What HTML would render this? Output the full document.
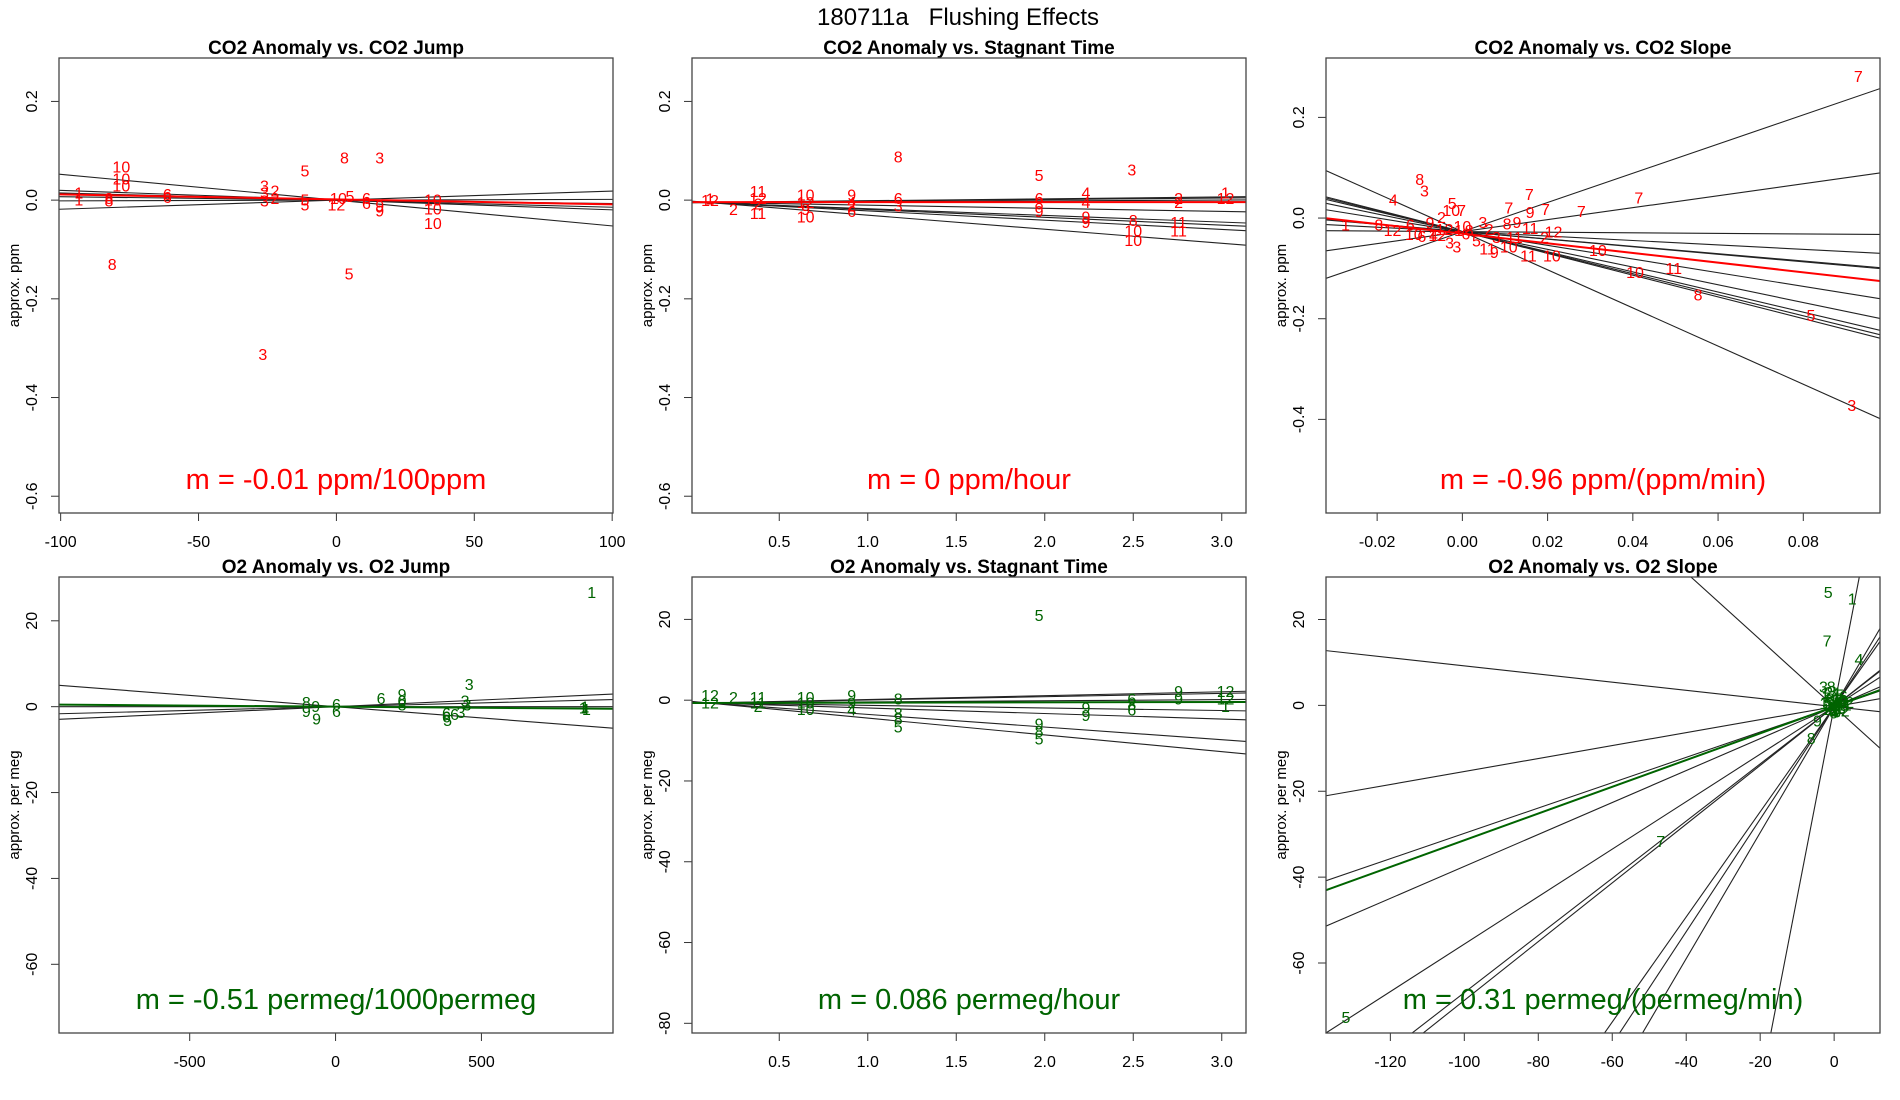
<!DOCTYPE html>
<html><head><meta charset="utf-8">
<style>
html,body{margin:0;padding:0;background:#fff;overflow:hidden;width:1900px;height:1100px;}
svg{display:block;font-family:"Liberation Sans",Arial,sans-serif;}
</style></head>
<body>
<svg id="chart" width="1900" height="1100" viewBox="0 0 1900 1100">
<text x="958" y="25" font-size="24" text-anchor="middle" xml:space="preserve" style="white-space:pre">180711a   Flushing Effects</text>
</svg>
<script>
// ---------- Panel 1: CO2 Anomaly vs CO2 Jump ----------
const p1Lab = ["10","10","10","1","1","8","8","6","6","3","3","3","2","2","5","5","5","1","12","0","5","8","3","6","6","9","9","10","10","10","8","5","3"];
const p1X = [-78,-78,-78,-93.4,-93.4,-82.5,-82.5,-61.3,-61.3,-26.1,-26.1,-26.1,-22.3,-22.3,-11.4,-11.4,-11.4,-0.8,0,2.2,4.9,2.9,15.7,10.9,10.9,15.7,15.7,35,35,35,-81.3,4.6,-26.7];
const p1Y = [0.065,0.041,0.027,0.012,-0.002,0.001,-0.004,0.009,0.003,0.027,0.012,-0.004,0.016,0.001,0.057,-0.002,-0.012,0.001,-0.012,0.001,0.005,0.083,0.083,0.001,-0.009,-0.014,-0.024,-0.002,-0.020,-0.049,-0.132,-0.152,-0.315];
const p1LineM = [-0.000523,-0.000197,-0.000144,0.000184,-0.00007,0.000015];
const p1LineB = [0,0,0,0,0,0];
const p1FitM = -0.0001, p1FitB = 0.0015;

// ---------- Panel 2: CO2 Anomaly vs Stagnant Time ----------
const p2Lab = ["12","1","2","11","12","11","2","10","12","10","9","9","4","6","2","8","6","3","5","6","8","9","4","4","9","9","3","8","10","10","2","2","11","11","1","12"];
const p2X = [0.109,0.109,0.241,0.38,0.38,0.38,0.38,0.649,0.649,0.649,0.649,0.909,0.909,0.909,0.909,1.172,1.172,1.172,1.968,1.968,1.968,1.968,2.233,2.233,2.233,2.233,2.492,2.5,2.5,2.5,2.756,2.756,2.756,2.756,3.021,3.021];
const p2Y = [-0.003,0.0,-0.021,0.015,0.001,-0.029,-0.010,0.008,-0.007,-0.036,-0.021,0.008,-0.007,-0.025,-0.014,0.085,0.001,-0.014,0.048,0.001,-0.010,-0.025,0.012,-0.007,-0.036,-0.047,0.059,-0.043,-0.065,-0.084,0.001,-0.007,-0.047,-0.065,0.012,0.001];
const p2LineM = [0.0038,0.0031,0.0017,0.0005,-0.0063,-0.0135,-0.0159,-0.0188,-0.0285];
const p2LineB = [-0.005,-0.005,-0.005,-0.005,-0.004,-0.004,-0.003,-0.003,-0.002];
const p2FitM = 0, p2FitB = -0.004;

// ---------- Panel 3: CO2 Anomaly vs CO2 Slope ----------
const p3Lab = ["7","7","7","7","7","7","9","9","8","11","12","2","11","10","11","10","10","10","11","8","5","3","1","8","12","4","8","3","5","10","7","2","6","10","6","9","12","3","3","8","5","3","2","10","11","9","3","12","4","6","1"];
const p3X = [0.0929,0.0414,0.0279,0.0195,0.0157,0.0109,0.0159,0.0128,0.0105,0.0159,0.0214,0.0193,0.0122,0.0109,0.0155,0.0210,0.0318,0.0405,0.0496,0.0553,0.0818,0.0914,-0.0274,-0.0196,-0.0164,-0.0162,-0.0100,-0.0089,-0.0024,-0.0026,-0.0002,-0.0049,-0.0122,-0.0114,-0.0095,-0.0076,-0.0059,-0.0030,-0.0013,0.0016,0.0033,0.0048,0.0063,0.0000,0.0059,0.0075,0.0080,-0.0042,-0.0068,0.0008,-0.0009];
const p3Y = [0.279,0.038,0.011,0.015,0.045,0.018,0.009,-0.011,-0.014,-0.023,-0.030,-0.041,-0.041,-0.059,-0.077,-0.077,-0.066,-0.110,-0.102,-0.155,-0.196,-0.374,-0.016,-0.016,-0.027,0.034,0.075,0.052,0.027,0.013,0.013,-0.001,-0.016,-0.035,-0.039,-0.012,-0.037,-0.052,-0.059,-0.027,-0.048,-0.011,-0.025,-0.019,-0.063,-0.070,-0.041,-0.025,-0.037,-0.034,-0.027];
const p3LineM = [2.90,1.19,-0.057,-0.44,-0.73,-0.75,-1.36,-1.76,-2.00,-2.09,-2.16,-3.79];
const p3LineB = [-0.027,-0.027,-0.027,-0.027,-0.027,-0.027,-0.027,-0.027,-0.027,-0.027,-0.027,-0.027];
const p3FitM = -0.96, p3FitB = -0.031;

// ---------- Panel 4: O2 Anomaly vs O2 Jump ----------
const p4Lab = ["1","1","1","1","3","3","3","3","6","6","6","6","5","9","0","8","8","9","9","9","6","6"];
const p4X = [878,849,855,860,458,444,451,430,156,380,408,380,384,228,228,228,-100,-100,-68,-65,3,3];
const p4Y = [26.4,-0.6,-0.3,-0.9,4.9,1.1,0.1,-1.6,1.7,-1.8,-2.0,-2.6,-3.5,2.6,1.1,0.2,0.7,-1.4,-0.2,-3.1,0.3,-1.4];
const p4LineM = [-0.00526,0.0031,0.00174,0];
const p4LineB = [0,0,0,0];
const p4FitM = -0.00051, p4FitB = 0;

// ---------- Panel 5: O2 Anomaly vs Stagnant Time ----------
const p5Lab = ["12","12","2","11","11","2","10","10","10","9","9","4","8","8","8","5","5","9","8","5","9","9","6","8","6","9","9","12","12","1"];
const p5X = [0.109,0.109,0.241,0.38,0.38,0.38,0.649,0.649,0.649,0.909,0.909,0.909,1.172,1.172,1.172,1.172,1.968,1.968,1.968,1.968,2.233,2.233,2.492,2.492,2.492,2.756,2.756,3.021,3.021,3.021];
const p5Y = [0.9,-0.9,0.4,0.4,-0.9,-1.8,0.4,-0.9,-2.5,0.9,-0.9,-2.7,-0.0,-3.6,-4.9,-6.9,20.7,-6.2,-8.0,-9.8,-2.2,-4.0,0.0,-1.3,-2.7,1.9,-0.0,1.9,-0.0,-1.8];
const p5LineM = [0.96,0.82,0.29,-0.64,-1.37,-3.13,-4.15];
const p5LineB = [-0.80,-0.78,-0.73,-0.64,-0.56,-0.39,-0.29];
const p5FitM = 0.086, p5FitB = -0.71;

// ---------- Panel 6: O2 Anomaly vs O2 Slope ----------
const p6Lab = ["5","1","7","4","3","8","9","8","7","5","1","2","3","4","5","6","7","8","9","10","11","12","1","2","3","4","5","6","7","8","9","10","11","12","1","2","3","6","9","12"];
const p6X = [-1.6,4.9,-1.9,6.7,-2.9,-0.8,-4.5,-6.2,-46.9,-132,-2.5,-1.5,-0.5,0.5,1.5,2.5,-2.0,-1.0,0.0,1.0,2.0,3.0,-2.8,-1.8,-0.8,0.2,1.2,2.2,-1.5,-0.5,0.5,1.5,2.5,-1.0,0.0,1.0,2.0,-0.2,0.8,1.8];
const p6Y = [26.0,24.6,14.8,10.5,4.0,4.0,-3.9,-7.9,-31.9,-72.9,2.5,2.8,3.0,2.6,2.2,1.8,1.5,1.2,1.0,0.8,0.6,0.4,0.2,0.0,-0.2,0.0,0.3,0.5,-0.6,-0.8,-0.5,-0.3,-0.1,-1.2,-1.4,-1.0,-0.8,-2.0,-1.8,-1.5];
const p6LineM = [-0.78,-0.095,0.151,0.295,0.372,0.553,0.666,0.684,1.224,1.31,1.467,4.44];
const p6LineB = [-0.3,-0.3,-0.3,-0.3,-0.3,-0.3,-0.3,-0.3,-0.3,-0.3,-0.3,-0.3];
const p6FitM = 0.311, p6FitB = -0.3;

// ---------- axis tick labels ----------
const p1XTicks = [-100,-50,0,50,100], p1YTicks = [0.2,0.0,-0.2,-0.4,-0.6];
const p2XTicks = [0.5,1.0,1.5,2.0,2.5,3.0], p2YTicks = [0.2,0.0,-0.2,-0.4,-0.6];
const p3XTicks = [-0.02,0.00,0.02,0.04,0.06,0.08], p3YTicks = [0.2,0.0,-0.2,-0.4];
const p4XTicks = [-500,0,500], p4YTicks = [20,0,-20,-40,-60];
const p5XTicks = [0.5,1.0,1.5,2.0,2.5,3.0], p5YTicks = [20,0,-20,-40,-60,-80];
const p6XTicks = [-120,-100,-80,-60,-40,-20,0], p6YTicks = [20,0,-20,-40,-60];

const NS = "http://www.w3.org/2000/svg";
const svg = document.getElementById("chart");
function mk(tag, attrs, parent){
  const e = document.createElementNS(NS, tag);
  for (const k in attrs) e.setAttribute(k, attrs[k]);
  (parent||svg).appendChild(e);
  return e;
}

const W0 = 554, H1 = 455, H2 = 456;
const panels = [
 {id:"co2-jump", title:"CO2 Anomaly vs. CO2 Jump", L:59, T:58, W:W0, H:H1, xl:[-100.6,100.3], yl:[-0.634,0.288], lab:p1Lab, xs:p1X, ys:p1Y, lm:p1LineM, lb:p1LineB, fm:p1FitM, fb:p1FitB, xt:p1XTicks, yt:p1YTicks, xd:0, yd:1, col:"#ff0000", ylab:"approx. ppm", note:"m = -0.01 ppm/100ppm"},
 {id:"co2-stagnant", title:"CO2 Anomaly vs. Stagnant Time", L:692, T:58, W:W0, H:H1, xl:[0.007,3.137], yl:[-0.634,0.288], lab:p2Lab, xs:p2X, ys:p2Y, lm:p2LineM, lb:p2LineB, fm:p2FitM, fb:p2FitB, xt:p2XTicks, yt:p2YTicks, xd:1, yd:1, col:"#ff0000", ylab:"approx. ppm", note:"m = 0 ppm/hour"},
 {id:"co2-slope", title:"CO2 Anomaly vs. CO2 Slope", L:1326, T:58, W:W0, H:H1, xl:[-0.032,0.098], yl:[-0.586,0.318], lab:p3Lab, xs:p3X, ys:p3Y, lm:p3LineM, lb:p3LineB, fm:p3FitM, fb:p3FitB, xt:p3XTicks, yt:p3YTicks, xd:2, yd:1, col:"#ff0000", ylab:"approx. ppm", note:"m = -0.96 ppm/(ppm/min)"},
 {id:"o2-jump", title:"O2 Anomaly vs. O2 Jump", L:59, T:577, W:W0, H:H2, xl:[-948,951], yl:[-76,30.2], lab:p4Lab, xs:p4X, ys:p4Y, lm:p4LineM, lb:p4LineB, fm:p4FitM, fb:p4FitB, xt:p4XTicks, yt:p4YTicks, xd:0, yd:0, col:"#006400", ylab:"approx. per meg", note:"m = -0.51 permeg/1000permeg"},
 {id:"o2-stagnant", title:"O2 Anomaly vs. Stagnant Time", L:692, T:577, W:W0, H:H2, xl:[0.007,3.137], yl:[-82.4,30.5], lab:p5Lab, xs:p5X, ys:p5Y, lm:p5LineM, lb:p5LineB, fm:p5FitM, fb:p5FitB, xt:p5XTicks, yt:p5YTicks, xd:1, yd:0, col:"#006400", ylab:"approx. per meg", note:"m = 0.086 permeg/hour"},
 {id:"o2-slope", title:"O2 Anomaly vs. O2 Slope", L:1326, T:577, W:W0, H:H2, xl:[-137.4,12.4], yl:[-76.3,29.9], lab:p6Lab, xs:p6X, ys:p6Y, lm:p6LineM, lb:p6LineB, fm:p6FitM, fb:p6FitB, xt:p6XTicks, yt:p6YTicks, xd:0, yd:0, col:"#006400", ylab:"approx. per meg", note:"m = 0.31 permeg/(permeg/min)"}
];

function fmt(v, d){ return (v<0?"-":"") + Math.abs(v).toFixed(d); }

panels.forEach((p, i) => {
  const sx = v => p.L + (v - p.xl[0]) / (p.xl[1]-p.xl[0]) * p.W;
  const sy = v => p.T + p.H - (v - p.yl[0]) / (p.yl[1]-p.yl[0]) * p.H;
  const g = mk("g", {});
  
  
  const cp = mk("clipPath", {id:"clip"+i}, g);
  mk("rect", {x:p.L, y:p.T, width:p.W, height:p.H}, cp);

  const t = mk("text", {x:p.L+p.W/2, y:p.T-4, "font-size":19, "font-weight":"bold", "text-anchor":"middle"}, g);
  t.textContent = p.title;
  
  

  p.xt.forEach(v => {
    const x = sx(v);
    mk("line", {x1:x, x2:x, y1:p.T+p.H, y2:p.T+p.H+8, stroke:"#333", "stroke-width":1}, g);
    const tl = mk("text", {x:x, y:p.T+p.H+34, "font-size":16, "text-anchor":"middle"}, g);
    tl.textContent = fmt(v, p.xd);
    
    
  });
  p.yt.forEach(v => {
    const y = sy(v);
    mk("line", {x1:p.L-8, x2:p.L, y1:y, y2:y, stroke:"#333", "stroke-width":1}, g);
    const tl = mk("text", {x:p.L-22, y:y, "font-size":16, "text-anchor":"middle", transform:"rotate(-90 "+(p.L-22)+" "+y+")"}, g);
    tl.textContent = fmt(v, p.yd);
    
    
  });
  const yl = mk("text", {x:p.L-40, y:p.T+p.H/2, "font-size":15, "text-anchor":"middle", transform:"rotate(-90 "+(p.L-40)+" "+(p.T+p.H/2)+")"}, g);
  yl.textContent = p.ylab;
  
  

  const clip = mk("g", {"clip-path":"url(#clip"+i+")"}, g);
  p.lm.forEach((m, k) => {
    const b = p.lb[k];
    const ln = mk("line", {x1:sx(p.xl[0]), y1:sy(b+m*p.xl[0]), x2:sx(p.xl[1]), y2:sy(b+m*p.xl[1]), stroke:"#222", "stroke-width":1.1}, clip);
    
    
  });
  p.lab.forEach((s, k) => {
    const tx = mk("text", {x:sx(p.xs[k]), y:sy(p.ys[k]), "font-size":16, fill:p.col, "text-anchor":"middle", "dominant-baseline":"central"}, clip);
    tx.textContent = s;
    
    
  });
  const fl = mk("line", {x1:sx(p.xl[0]), y1:sy(p.fb+p.fm*p.xl[0]), x2:sx(p.xl[1]), y2:sy(p.fb+p.fm*p.xl[1]), stroke:p.col, "stroke-width":2}, clip);
  
  

  const nt = mk("text", {x:p.L+p.W/2, y:p.T+p.H-24, "font-size":29, fill:p.col, "text-anchor":"middle"}, g);
  nt.textContent = p.note;
  
  

  const fr = mk("rect", {x:p.L, y:p.T, width:p.W, height:p.H, fill:"none", stroke:"#444", "stroke-width":1.3}, g);
  
  
});
</script>
</body></html>
